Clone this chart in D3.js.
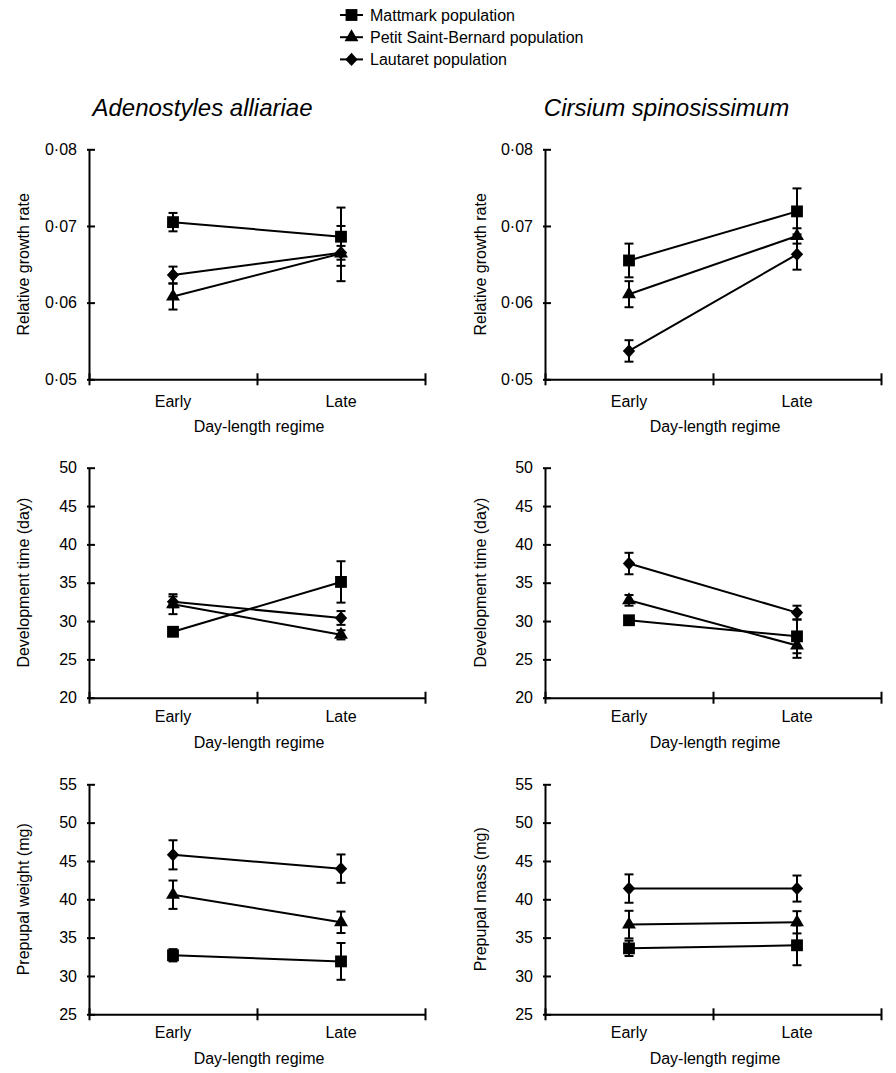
<!DOCTYPE html>
<html>
<head>
<meta charset="utf-8">
<script src="https://cdn.jsdelivr.net/npm/d3@7"></script>
<style>
  body { margin: 0; background: #fff; }
  text { font-family: "Liberation Sans", Arial, sans-serif; fill: #000; }
</style>
</head>
<body>
<svg id="chart"></svg>
<script>
// categories
const regimes = ['Early', 'Late']
const populations = ['Mattmark population', 'Petit Saint-Bernard population', 'Lautaret population']
const species = ['Adenostyles alliariae', 'Cirsium spinosissimum']

// tick labels
const rgrTicks = [0.05, 0.06, 0.07, 0.08]
const devTicks = [20, 25, 30, 35, 40, 45, 50]
const massTicks = [25, 30, 35, 40, 45, 50, 55]

// series values: rows = population (Mattmark, Petit St-Bernard, Lautaret), cols = regime (Early, Late)
const rgrAdenostyles = [[0.0705, 0.0686], [0.0608, 0.0664], [0.0636, 0.0665]]
const rgrAdenostylesSE = [[0.0012, 0.0038], [0.0017, 0.0036], [0.0011, 0.0009]]
const rgrCirsium = [[0.0655, 0.0719], [0.0611, 0.0687], [0.0537, 0.0663]]
const rgrCirsiumSE = [[0.0022, 0.0030], [0.0017, 0.0010], [0.0014, 0.0020]]

const devAdenostyles = [[28.6, 35.1], [32.2, 28.2], [32.5, 30.4]]
const devAdenostylesSE = [[0.3, 2.7], [1.3, 0.6], [0.7, 0.9]]
const devCirsium = [[30.1, 28.0], [32.7, 26.8], [37.5, 31.1]]
const devCirsiumSE = [[0.4, 2.2], [0.7, 1.6], [1.4, 0.9]]

const massAdenostyles = [[32.7, 31.9], [40.6, 37.0], [45.8, 44.0]]
const massAdenostylesSE = [[0.8, 2.4], [1.85, 1.4], [1.9, 1.85]]
const massCirsium = [[33.6, 34.0], [36.7, 37.0], [41.4, 41.4]]
const massCirsiumSE = [[1.0, 2.6], [1.8, 1.45], [1.85, 1.7]]

// layout
const W = 896, H = 1073
const colX = [89, 545]
const rowY = [149.3, 467.7, 784.3]
const pw = 336, ph = 230

const svg = d3.select('#chart').attr('width', W).attr('height', H)
svg.append('rect').attr('width', W).attr('height', H).attr('fill', '#fff')

// diamond drawn as slightly tall rhombus
const rhombus = {
    draw(ctx, size) {
        let w = Math.sqrt(size) * 0.68, h = Math.sqrt(size) * 0.74
        ctx.moveTo(0, -h); ctx.lineTo(w, 0); ctx.lineTo(0, h); ctx.lineTo(-w, 0); ctx.closePath()
    }
}
const markerTypes = [d3.symbolSquare, d3.symbolTriangle, rhombus]
const markerSizes = [140, 84, 82]
const makeMarker = (i) => d3.symbol().type(markerTypes[i]).size(markerSizes[i])()

const dotFmt = (d) => d3.format('.2f')(d).replace('.', '\u00b7')

let panels = [
    {row: 0, col: 0, mean: rgrAdenostyles, se: rgrAdenostylesSE, domain: [0.05, 0.08], ticks: rgrTicks, fmt: dotFmt, title: 'Relative growth rate', tOff: 22, xtOff: 47},
    {row: 0, col: 1, mean: rgrCirsium, se: rgrCirsiumSE, domain: [0.05, 0.08], ticks: rgrTicks, fmt: dotFmt, title: 'Relative growth rate', tOff: 22, xtOff: 47},
    {row: 1, col: 0, mean: devAdenostyles, se: devAdenostylesSE, domain: [20, 50], ticks: devTicks, fmt: d3.format('d'), title: 'Development time (day)', tOff: 18.5, xtOff: 44.5},
    {row: 1, col: 1, mean: devCirsium, se: devCirsiumSE, domain: [20, 50], ticks: devTicks, fmt: d3.format('d'), title: 'Development time (day)', tOff: 18.5, xtOff: 44.5},
    {row: 2, col: 0, mean: massAdenostyles, se: massAdenostylesSE, domain: [25, 55], ticks: massTicks, fmt: d3.format('d'), title: 'Prepupal weight (mg)', tOff: 18.5, xtOff: 44.5},
    {row: 2, col: 1, mean: massCirsium, se: massCirsiumSE, domain: [25, 55], ticks: massTicks, fmt: d3.format('d'), title: 'Prepupal mass (mg)', tOff: 18.5, xtOff: 44.5},
]

panels.forEach((p) => {
    let fig = svg.append('g')
        .attr('transform', `translate(${colX[p.col]},${rowY[p.row]})`)

    let x = d3.scaleBand().domain(regimes).range([0, pw])
    let xb = d3.scaleLinear().domain([0, 2]).range([0, pw])
    let y = d3.scaleLinear().domain(p.domain).range([ph, 0])

    // y axis (ticks pointing inwards)
    let ya = fig.append('g')
        .call(d3.axisLeft(y).tickValues(p.ticks).tickFormat(p.fmt)
            .tickSize(-6).tickSizeOuter(0).tickPadding(12))
    ya.selectAll('.tick line').attr('x1', -2).attr('stroke-width', 2)
    ya.select('.domain').attr('stroke-width', 2)
    ya.selectAll('text').attr('font-size', 16).attr('font-family', null)

    // x axis (crossing ticks at band edges)
    let xa = fig.append('g')
        .attr('transform', `translate(0,${ph})`)
        .call(d3.axisBottom(xb).tickValues([0, 1, 2]).tickFormat('').tickSize(6).tickSizeOuter(0))
    xa.selectAll('.tick line').attr('y1', -6).attr('stroke-width', 2)
    xa.select('.domain').attr('stroke-width', 2)

    fig.selectAll('.xlab')
        .data(regimes)
        .enter().append('text')
        .attr('x', (d) => x(d) + x.bandwidth() / 2)
        .attr('y', ph + p.tOff)
        .attr('dy', '0.35em')
        .attr('text-anchor', 'middle')
        .attr('font-size', 16)
        .text((d) => d)

    fig.append('text')
        .attr('x', pw / 2 + 2)
        .attr('y', ph + p.xtOff)
        .attr('dy', '0.35em')
        .attr('text-anchor', 'middle')
        .attr('font-size', 16)
        .text('Day-length regime')

    fig.append('text')
        .attr('transform', `translate(${p.col == 0 ? -66 : -65},${ph / 2}) rotate(-90)`)
        .attr('dy', '0.35em')
        .attr('text-anchor', 'middle')
        .attr('font-size', 16)
        .text(p.title)

    let series = populations.map((name, i) => ({
        idx: i,
        values: regimes.map((r, j) => ({regime: r, mean: p.mean[i][j], se: p.se[i][j]}))
    }))

    let cx = (d) => x(d.regime) + x.bandwidth() / 2
    let line = d3.line().x(cx).y((d) => y(d.mean))

    fig.selectAll('.pop-line')
        .data(series)
        .enter().append('path')
        .attr('d', (d) => line(d.values))
        .attr('fill', 'none')
        .attr('stroke', '#000')
        .attr('stroke-width', 2)

    let pts = series.flatMap((s) => s.values.map((v) => Object.assign({idx: s.idx}, v)))

    let err = fig.selectAll('.err')
        .data(pts)
        .enter().append('g')
        .attr('stroke', '#000')
        .attr('stroke-width', 2)
    err.append('line')
        .attr('x1', cx).attr('x2', cx)
        .attr('y1', (d) => y(d.mean - d.se)).attr('y2', (d) => y(d.mean + d.se))
    err.append('line')
        .attr('x1', (d) => cx(d) - 4.5).attr('x2', (d) => cx(d) + 4.5)
        .attr('y1', (d) => y(d.mean + d.se)).attr('y2', (d) => y(d.mean + d.se))
    err.append('line')
        .attr('x1', (d) => cx(d) - 4.5).attr('x2', (d) => cx(d) + 4.5)
        .attr('y1', (d) => y(d.mean - d.se)).attr('y2', (d) => y(d.mean - d.se))

    fig.selectAll('.marker')
        .data(pts)
        .enter().append('path')
        .attr('transform', (d) => `translate(${cx(d)},${y(d.mean)})`)
        .attr('d', (d) => makeMarker(d.idx))
        .attr('fill', '#000')
})

// species titles
svg.selectAll('.species')
    .data(species)
    .enter().append('text')
    .attr('x', (d, i) => [202.5, 666.5][i])
    .attr('y', 116)
    .attr('text-anchor', 'middle')
    .attr('font-size', 24)
    .attr('font-style', 'italic')
    .text((d) => d)

// legend
let leg = svg.selectAll('.leg')
    .data(populations)
    .enter().append('g')
    .attr('transform', (d, i) => `translate(340,${15 + i * 22.2})`)
leg.append('line')
    .attr('x1', 0).attr('x2', 23)
    .attr('stroke', '#000').attr('stroke-width', 2)
leg.append('path')
    .attr('transform', 'translate(11.5,0)')
    .attr('d', (d, i) => makeMarker(i))
    .attr('fill', '#000')
leg.append('text')
    .attr('x', 30)
    .attr('dy', '0.35em')
    .attr('font-size', 16)
    .text((d) => d)
</script>
</body>
</html>
